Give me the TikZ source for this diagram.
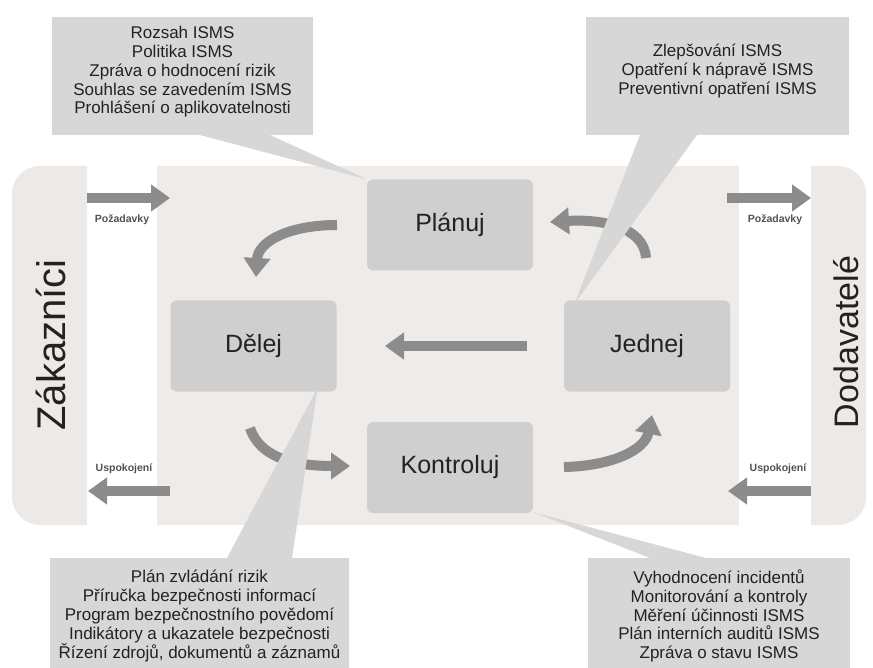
\documentclass[tikz,border=0pt]{standalone}
\usepackage{fontspec}
\setmainfont{Liberation Sans}
\usetikzlibrary{arrows.meta,calc}
\definecolor{callout}{HTML}{D7D7D7}
\definecolor{nodefill}{HTML}{CFCFCF}
\definecolor{mainbg}{HTML}{EEEBE8}
\definecolor{panelbg}{HTML}{ECE9E6}
\definecolor{arrowc}{HTML}{8C8C8C}
\definecolor{txt}{HTML}{222222}
\begin{document}
\begin{tikzpicture}[x=1pt,y=-1pt,
  phase/.style={fill=nodefill, rounded corners=6pt, minimum width=166pt, minimum height=91pt, inner sep=0pt, font=\fontsize{25}{29}\selectfont, text=txt},
  bigarrow/.style={draw=arrowc, line width=10pt, -{Triangle[width=26pt,length=19pt]}},
  flowlabel/.style={font=\bfseries\fontsize{10.5}{12}\selectfont, text=black!68, inner sep=0pt},
  callbox/.style={fill=callout, inner sep=0pt},
  calltext/.style={align=center, font=\fontsize{17}{18.8}\selectfont, text=txt, inner sep=0pt},
  sidelabel/.style={rotate=90, anchor=base, text=txt, inner sep=0pt}]

\useasboundingbox (0,0) rectangle (873,668);
\fill[white] (0,0) rectangle (873,668);

% background areas
\fill[mainbg] (157,166) rectangle (739,525);
\begin{scope}
  \clip (0,0) rectangle (87,668);
  \fill[panelbg, rounded corners=28pt] (12,166) rectangle (140,525);
\end{scope}
\begin{scope}
  \clip (811,0) rectangle (873,668);
  \fill[panelbg, rounded corners=28pt] (760,166) rectangle (866,525);
\end{scope}

% side labels
\node[sidelabel, font=\fontsize{40}{40}\selectfont] (zak) at (65,345) {Zákazníci};
\node[sidelabel, font=\fontsize{34}{34}\selectfont] (dod) at (858,342) {Dodavatelé};

% phase nodes
\node[phase] (pl) at (450,225) {Plánuj};
\node[phase] (de) at (253.5,346) {Dělej};
\node[phase] (jd) at (647,346) {Jednej};
\node[phase] (ko) at (450,467.5) {Kontroluj};

% arrow end points
\coordinate (pzLs) at (87,198);  \coordinate (pzLe) at (170,198);
\coordinate (pzRs) at (727,198); \coordinate (pzRe) at (811,198);
\coordinate (usLs) at (170,491); \coordinate (usLe) at (88,491);
\coordinate (usRs) at (811,491); \coordinate (usRe) at (728,491);
\coordinate (jdOut) at (527,346); \coordinate (deIn) at (385,346);
\coordinate (plOut) at (337,225); \coordinate (deTop) at (256,277);
\coordinate (jdTop) at (646,258); \coordinate (plIn) at (550,222);
\coordinate (deBot) at (250,428); \coordinate (koIn) at (350,466);
\coordinate (koOut) at (564,467); \coordinate (jdBot) at (652,415);

% side arrows
\draw[bigarrow] (pzLs) -- (pzLe);
\draw[bigarrow] (pzRs) -- (pzRe);
\draw[bigarrow] (usLs) -- (usLe);
\draw[bigarrow] (usRs) -- (usRe);
\node[flowlabel] (lpzL) at (122,220) {Požadavky};
\node[flowlabel] (lpzR) at (775,220) {Požadavky};
\node[flowlabel] (lusL) at (124,469) {Uspokojení};
\node[flowlabel] (lusR) at (778,469) {Uspokojení};

% cycle arrows
\draw[bigarrow] (jdOut) -- (deIn);
\draw[bigarrow] (plOut) .. controls (288,225) and (258,242) .. (deTop);
\draw[bigarrow] (jdTop) .. controls (644,226) and (600,219) .. (plIn);
\draw[bigarrow] (deBot) .. controls (260,458) and (295,466) .. (koIn);
\draw[bigarrow] (koOut) .. controls (612,466) and (645,450) .. (jdBot);

% callout boxes
\node[callbox, minimum width=261pt, minimum height=118pt] (cpl) at (182.5,76) {};
\node[calltext] (tpl) at (182.5,72) {Rozsah ISMS\\Politika ISMS\\Zpráva o hodnocení rizik\\Souhlas se zavedením ISMS\\Prohlášení o aplikovatelnosti};
\node[callbox, minimum width=263pt, minimum height=118pt] (cjd) at (717.5,76) {};
\node[calltext] (tjd) at (717.5,71) {Zlepšování ISMS\\Opatření k nápravě ISMS\\Preventivní opatření ISMS};
\node[callbox, minimum width=299pt, minimum height=112pt] (cde) at (199.5,614) {};
\node[calltext] (tde) at (199.5,616) {Plán zvládání rizik\\Příručka bezpečnosti informací\\Program bezpečnostního povědomí\\Indikátory a ukazatele bezpečnosti\\Řízení zdrojů, dokumentů a záznamů};
\node[callbox, minimum width=262pt, minimum height=112pt] (cko) at (719,614) {};
\node[calltext] (tko) at (719,616) {Vyhodnocení incidentů\\Monitorování a kontroly\\Měření účinnosti ISMS\\Plán interních auditů ISMS\\Zpráva o stavu ISMS};

% callout pointers
\fill[callout] (200,135) -- (270,135) -- (pl.north west) -- cycle;
\fill[callout] (640,135) -- (697,135) -- ($(jd.north west)+(11,3)$) -- cycle;
\fill[callout] (227,558) -- (292,558) -- ($(de.south east)+(-19,-4)$) -- cycle;
\fill[callout] (650,558) -- (706,558) -- ($(ko.south east)+(0,-1)$) -- cycle;
\end{tikzpicture}
\end{document}
